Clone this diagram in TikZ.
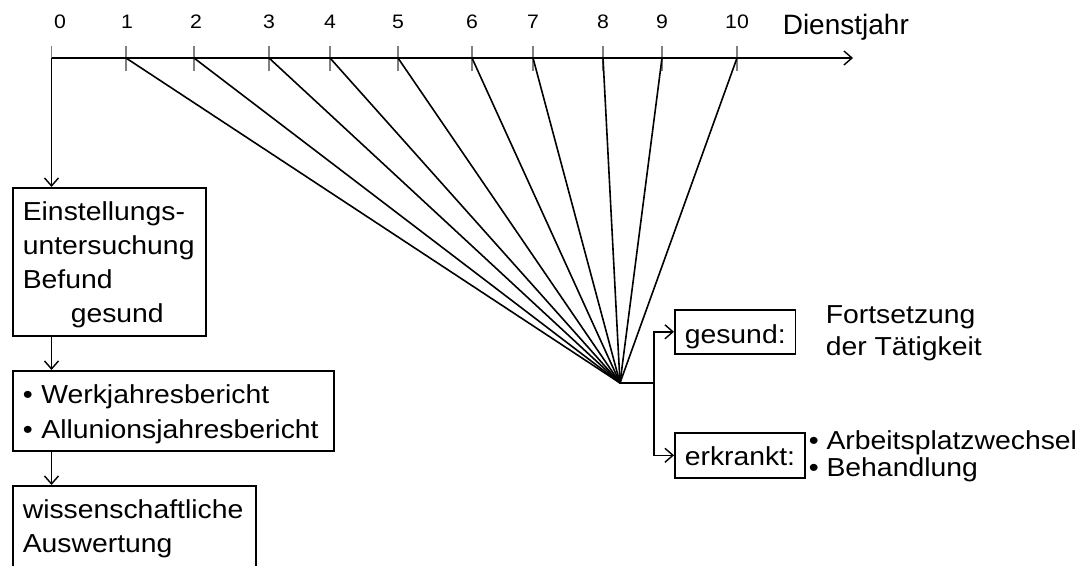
\documentclass[tikz,border=0pt]{standalone}
\usepackage{fontspec}
\setmainfont{Liberation Sans}[FakeStretch=1.09]
\newfontfamily\titlefont{Liberation Sans}
\usetikzlibrary{arrows.meta}
\hyphenpenalty=10000
\exhyphenpenalty=10000
\begin{document}
\begin{tikzpicture}[x=1pt,y=-1pt,
  line width=1.6pt,
  arr/.style={-{Straight Barb[length=8pt,width=14pt,line width=1.4pt]}},
  tick/.style={draw=black!50, line width=1.6pt},
  box/.style={draw, align=left, inner xsep=10pt, inner ysep=0pt, anchor=north west,
    font=\fontsize{26}{34}\selectfont},
  sbox/.style={draw, inner xsep=10pt, inner ysep=0pt, anchor=north west,
    font=\fontsize{26}{30}\selectfont},
  plain/.style={align=left, inner sep=0pt, anchor=north west},
  digit/.style={inner sep=0pt, anchor=base, font=\fontsize{19.5}{20}\selectfont}]
\useasboundingbox (0,0) rectangle (1087,565);

% time axis
\foreach \x [count=\i from 0] in {51.5,126,194,269,330,398,472,533,603,662,737}
  {\coordinate (t\i) at (\x,58);}
\coordinate (axend) at (853,58);
\coordinate (F) at (620,383);
\coordinate (J) at (654,383);

\draw[tick] ([yshift=12.5pt]t0) -- (t0);
\foreach \i in {1,...,10}
  {\draw[tick] ([yshift=12.5pt]t\i) -- ([yshift=-12.5pt]t\i);}
\draw[arr] (t0) -- (axend);

\node[digit] (d0) at (60,28) {0};
\foreach \x [count=\i] in {127,196,269,330,398,472,533,603,662,737}
  {\node[digit] (d\i) at (\x,28) {\i};}
\node[inner sep=0pt, anchor=base west, font=\titlefont\fontsize{28}{30}\selectfont] (dj) at (782,34) {Dienstjahr};

% fan
\foreach \i in {1,...,10}
  {\draw (t\i) -- (F);}

% left column
\node[box, text width=173pt] (b1) at (12,187)
  {\rule{0pt}{33pt}Einstellungs-\\ untersuchung\\ Befund\\ \hspace*{48pt}gesund\rule[-13pt]{0pt}{13pt}};
\node[box, text width=301pt, font=\fontsize{26}{35}\selectfont] (b2) at (12,370)
  {\rule{0pt}{33pt}• Werkjahresbericht\\ • Allunionsjahresbericht\rule[-12pt]{0pt}{12pt}};
\node[box, text width=223pt] (b3) at (12,485)
  {\rule{0pt}{33pt}wissenschaftliche\\ Auswertung\rule[-40pt]{0pt}{40pt}};

\draw[arr] (t0) -- (t0 |- b1.north);
\draw[arr] (b1.south -| t0) -- (b2.north -| t0);
\draw[arr] (b2.south -| t0) -- (b3.north -| t0);

% right side
\node[sbox] (g) at (674,309) {\rule[-10pt]{0pt}{44pt}gesund:};
\node[sbox] (e) at (674,432) {\rule[-12pt]{0pt}{45pt}erkrankt:};
\draw (F) -- (J);
\draw[arr] (J) |- (g.west);
\draw[arr] (J) |- (e.west);

\node[plain, font=\fontsize{26}{32}\selectfont] (ft) at (825,305)
  {\rule{0pt}{18pt}Fortsetzung\\ der Tätigkeit};
\node[plain, font=\fontsize{26}{27}\selectfont] (ab) at (808,430)
  {\rule{0pt}{18pt}• Arbeitsplatzwechsel\\ • Behandlung};
\end{tikzpicture}
\end{document}
